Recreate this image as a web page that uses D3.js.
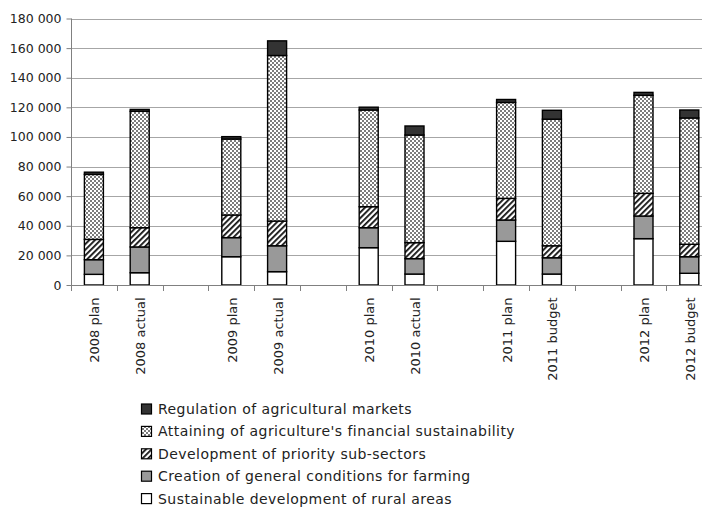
<!DOCTYPE html>
<html>
<head>
<meta charset="utf-8">
<script src="https://cdn.jsdelivr.net/npm/d3@7"></script>
<style>
  html, body { margin: 0; padding: 0; background: #fff; }
  svg { display: block; font-family: "DejaVu Sans", sans-serif; }
</style>
</head>
<body>
<svg id="chart" width="702" height="513"></svg>
<script>
// Agricultural budget by programme, plan vs actual / budget (thousands)
const categories = ["2008 plan", "2008 actual", "", "2009 plan", "2009 actual", "",
  "2010 plan", "2010 actual", "", "2011 plan", "2011 budget", "", "2012 plan", "2012 budget"];

const ruralAreas   = [7200, 8300, null, 19100, 9000, null, 25200, 7400, null, 29500, 7400, null, 31300, 7900];
const farmingConds = [9900, 17400, null, 12900, 17500, null, 13500, 10400, null, 14400, 11000, null, 15300, 11200];
const subSectors   = [13700, 13000, null, 15300, 16700, null, 14200, 10800, null, 14600, 8100, null, 15300, 8400];
const financialSus = [43900, 78600, null, 51300, 111800, null, 65300, 72700, null, 64800, 85500, null, 66200, 85300];
const marketReg    = [1500, 1300, null, 1600, 9900, null, 1900, 6100, null, 2000, 6000, null, 2000, 5400];

const yTicks = [0, 20000, 40000, 60000, 80000, 100000, 120000, 140000, 160000, 180000];

// stacking order, bottom to top
const series = [
  { name: "Sustainable development of rural areas", values: ruralAreas, fill: "#ffffff" },
  { name: "Creation of general conditions for farming", values: farmingConds, fill: "#999999" },
  { name: "Development of priority sub-sectors", values: subSectors, fill: "url(#hatch)" },
  { name: "Attaining of agriculture's financial sustainability", values: financialSus, fill: "url(#dots)" },
  { name: "Regulation of agricultural markets", values: marketReg, fill: "#333333" }
];

const svg = d3.select("#chart");
const plotLeft = 71, plotBottom = 285, plotTop = 18.5, catStep = 45.8;
const plotRight = plotLeft + catStep * categories.length;

// fill patterns
const defs = svg.append("defs");
const dots = defs.append("pattern").attr("id", "dots")
  .attr("patternUnits", "userSpaceOnUse").attr("width", 4).attr("height", 4);
dots.append("rect").attr("width", 4).attr("height", 4).attr("fill", "#7c7c7c");
dots.append("rect").attr("x", 0).attr("y", 0).attr("width", 2).attr("height", 2).attr("fill", "#fff");
dots.append("rect").attr("x", 2).attr("y", 2).attr("width", 2).attr("height", 2).attr("fill", "#fff");

const hatch = defs.append("pattern").attr("id", "hatch")
  .attr("patternUnits", "userSpaceOnUse").attr("width", 4).attr("height", 4)
  .attr("patternTransform", "rotate(45)");
hatch.append("rect").attr("width", 4).attr("height", 4).attr("fill", "#fff");
hatch.append("rect").attr("x", 0).attr("y", 0).attr("width", 1.8).attr("height", 4).attr("fill", "#111");

const x = d3.scaleBand()
  .domain(d3.range(categories.length))
  .range([plotLeft, plotRight])
  .paddingInner(0.585)
  .paddingOuter(0.585 / 2);

const y = d3.scaleLinear().domain([0, 180000]).range([plotBottom, plotTop]);

const fmt = d3.formatLocale({ thousands: " ", grouping: [3], decimal: "," }).format(",");

// gridlines
svg.append("g").selectAll("line").data(yTicks.filter(d => d > 0)).join("line")
  .attr("x1", plotLeft).attr("x2", plotRight)
  .attr("y1", d => Math.round(y(d)) + 0.5).attr("y2", d => Math.round(y(d)) + 0.5)
  .attr("stroke", "#a6a6a6").attr("stroke-width", 1);

// y axis
const yAxis = svg.append("g").attr("transform", `translate(${plotLeft + 0.5},0)`)
  .call(d3.axisLeft(y).tickValues(yTicks).tickSize(5).tickPadding(5).tickFormat(fmt));
yAxis.select(".domain").attr("stroke", "#808080").attr("d", `M0,${plotTop}V${plotBottom}`);
yAxis.selectAll(".tick line").attr("stroke", "#808080");
yAxis.selectAll(".tick text").attr("font-size", "12.5px").attr("fill", "#222")
  .attr("font-family", "DejaVu Sans, sans-serif");

// stacked bars
const stackData = categories.map((c, i) => {
  const row = { i };
  series.forEach((s, k) => row[k] = s.values[i] || 0);
  return row;
});
const stack = d3.stack().keys(series.map((s, k) => k))(stackData);

const barsG = svg.append("g");
stack.forEach((layer, k) => {
  barsG.append("g").selectAll("rect")
    .data(layer.filter(d => series[k].values[d.data.i] != null))
    .join("rect")
    .attr("x", d => x(d.data.i))
    .attr("width", x.bandwidth())
    .attr("y", d => y(d[1]))
    .attr("height", d => y(d[0]) - y(d[1]))
    .attr("fill", series[k].fill)
    .attr("stroke", "#000")
    .attr("stroke-width", 1.4);
});

// x axis baseline and category separators
const xAxisG = svg.append("g");
xAxisG.append("line").attr("x1", plotLeft).attr("x2", plotRight)
  .attr("y1", plotBottom + 0.5).attr("y2", plotBottom + 0.5)
  .attr("stroke", "#808080");
xAxisG.selectAll("line.sep").data(d3.range(categories.length + 1)).join("line")
  .attr("class", "sep")
  .attr("x1", i => Math.round(plotLeft + i * x.step()) + 0.5)
  .attr("x2", i => Math.round(plotLeft + i * x.step()) + 0.5)
  .attr("y1", plotBottom).attr("y2", plotBottom + 6)
  .attr("stroke", "#808080");

// category labels, rotated
const xLabels = svg.append("g").attr("transform", `translate(0,${plotBottom})`)
  .call(d3.axisBottom(x).tickSize(0).tickFormat(i => categories[i]));
xLabels.select(".domain").remove();
xLabels.selectAll(".tick text")
  .attr("font-size", "13px").attr("fill", "#222")
  .attr("font-family", "DejaVu Sans, sans-serif")
  .attr("transform", "translate(1,0) rotate(-90)")
  .attr("text-anchor", "end")
  .attr("x", -12.5).attr("y", 0).attr("dy", "0.35em");

// legend, top entry is the top of the stack
const legendItems = series.slice().reverse();
const legend = svg.append("g");
const rowY = d => 409 + d * 22.4;
legendItems.forEach((s, k) => {
  legend.append("rect")
    .attr("x", 141.5).attr("y", rowY(k) - 5)
    .attr("width", 10).attr("height", 10)
    .attr("fill", s.fill).attr("stroke", "#000").attr("stroke-width", 1.2);
  legend.append("text")
    .attr("x", 158).attr("y", rowY(k)).attr("dy", "0.36em")
    .attr("font-size", "14px").attr("letter-spacing", "0.45px").attr("fill", "#222")
    .text(s.name);
});
</script>
</body>
</html>
